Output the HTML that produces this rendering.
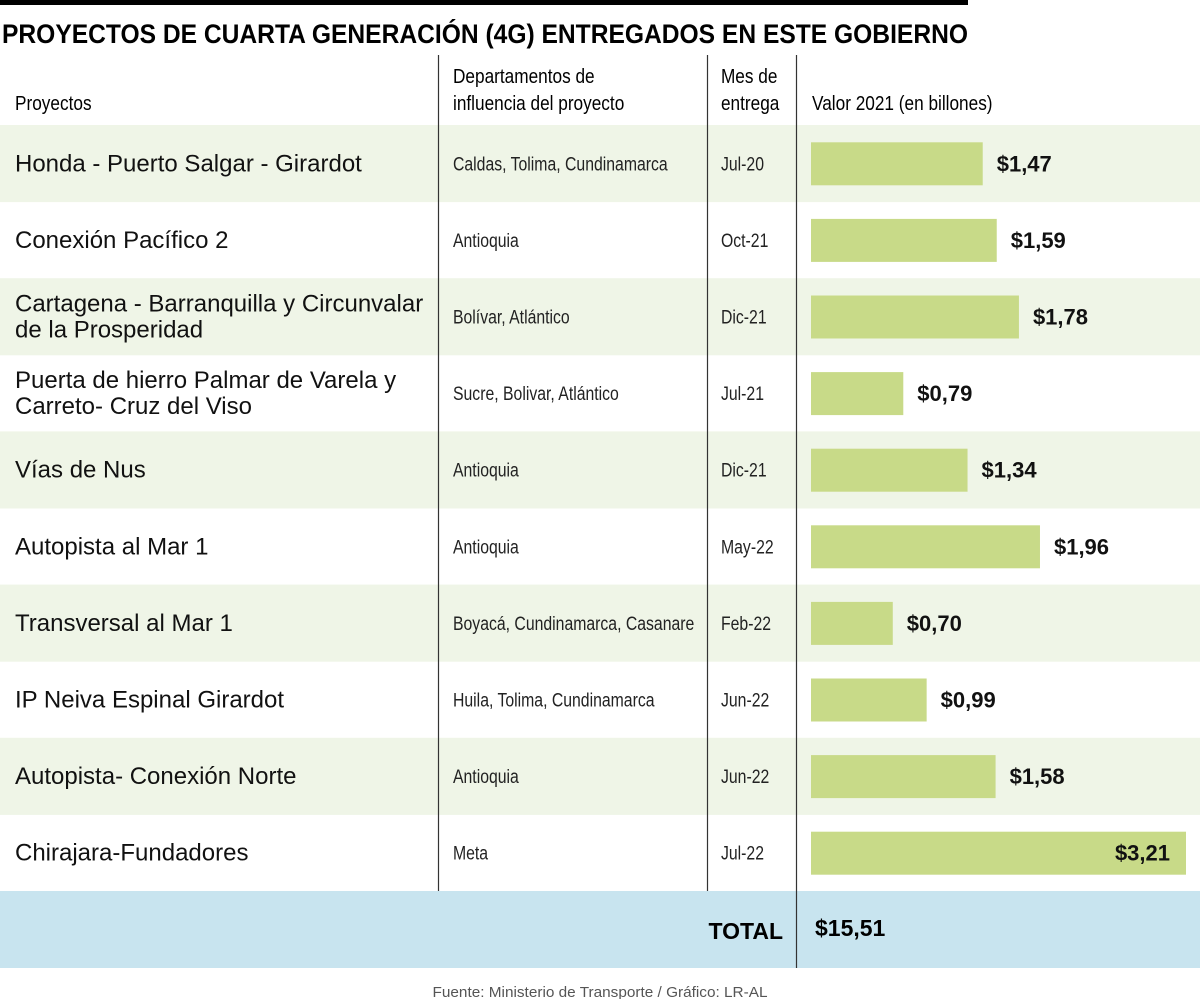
<!DOCTYPE html>
<html><head><meta charset="utf-8"><style>
html,body{margin:0;padding:0;background:#fff;}
svg{display:block;font-family:"Liberation Sans",sans-serif;}
</style></head><body>
<svg id="c" width="1200" height="999" viewBox="0 0 1200 999" xmlns="http://www.w3.org/2000/svg">
<rect x="0" y="0" width="968" height="5" fill="#000"/>
<text x="2" y="43" font-size="27" font-weight="bold" textLength="966" lengthAdjust="spacingAndGlyphs">PROYECTOS DE CUARTA GENERACIÓN (4G) ENTREGADOS EN ESTE GOBIERNO</text>
<g id="rows"></g>
<rect x="0" y="891" width="1200" height="77" fill="#c8e4ef"/>
<text x="783" y="939" font-size="23" font-weight="bold" text-anchor="end">TOTAL</text>
<text x="815" y="936" font-size="23" font-weight="bold">$15,51</text>
<g transform="scale(0.84,1)" font-size="20.5">
<text x="17.9" y="110">Proyectos</text>
<text x="539.3" y="83">Departamentos de</text>
<text x="539.3" y="110">influencia del proyecto</text>
<text x="858.3" y="83">Mes de</text>
<text x="858.3" y="110">entrega</text>
<text x="966.7" y="110">Valor 2021 (en billones)</text>
</g>
<line x1="438.5" y1="55" x2="438.5" y2="891" stroke="#333" stroke-width="1.2"/>
<line x1="707.5" y1="55" x2="707.5" y2="891" stroke="#333" stroke-width="1.2"/>
<line x1="796.5" y1="55" x2="796.5" y2="968" stroke="#333" stroke-width="1.2"/>
<text x="600" y="997" font-size="15" fill="#555" text-anchor="middle" textLength="335" lengthAdjust="spacingAndGlyphs">Fuente: Ministerio de Transporte / Gráfico: LR-AL</text>
</svg>
<script>
const projects=[["Honda - Puerto Salgar - Girardot"],["Conexión Pacífico 2"],["Cartagena - Barranquilla y Circunvalar","de la Prosperidad"],["Puerta de hierro Palmar de Varela y","Carreto- Cruz del Viso"],["Vías de Nus"],["Autopista al Mar 1"],["Transversal al Mar 1"],["IP Neiva Espinal Girardot"],["Autopista- Conexión Norte"],["Chirajara-Fundadores"]];
const departments=["Caldas, Tolima, Cundinamarca","Antioquia","Bolívar, Atlántico","Sucre, Bolivar, Atlántico","Antioquia","Antioquia","Boyacá, Cundinamarca, Casanare","Huila, Tolima, Cundinamarca","Antioquia","Meta"];
const months=["Jul-20","Oct-21","Dic-21","Jul-21","Dic-21","May-22","Feb-22","Jun-22","Jun-22","Jul-22"];
const values=[1.47,1.59,1.78,0.79,1.34,1.96,0.70,0.99,1.58,3.21];
const labels=["$1,47","$1,59","$1,78","$0,79","$1,34","$1,96","$0,70","$0,99","$1,58","$3,21"];
const NS="http://www.w3.org/2000/svg";
const g=document.getElementById('rows');
const x0=811, pxPerUnit=375/3.21, top0=125, rowH=76.6, SX=0.81;
const xs=v=>v*pxPerUnit;
const maxV=Math.max(...values);
function mk(tag,attrs,text){const e=document.createElementNS(NS,tag);for(const k in attrs)e.setAttribute(k,attrs[k]);if(text!==undefined)e.textContent=text;g.appendChild(e);return e;}
values.forEach((v,i)=>{
  const y=top0+i*rowH, cy=y+rowH/2;
  if(i%2===0){const r=mk('rect',{x:0,y:y,width:1200,height:rowH+0.5,fill:'#eff5e7'});
    
    }
  const p=projects[i];
  p.forEach((line,j)=>{
    const yy=p.length===1?cy+8:cy-5+j*26;
    const t=mk('text',{x:15,y:yy,'font-size':24,fill:'#111'},line);
    
    
  });
  const d=mk('text',{x:453/SX,y:cy+7,'font-size':19.5,fill:'#222',transform:`scale(${SX},1)`},departments[i]);
  
  
  const m=mk('text',{x:721/SX,y:cy+7,'font-size':19.5,fill:'#222',transform:`scale(${SX},1)`},months[i]);
  
  
  const w=xs(v);
  const b=mk('rect',{x:x0,y:cy-21,width:w,height:43,fill:'#c8da88'});
  
  
  const inside=v===maxV;
  const l=mk('text',{x:inside?x0+w-16:x0+w+14,y:cy+8,'font-size':22,'font-weight':'bold','text-anchor':inside?'end':'start',fill:'#111'},labels[i]);
  
  
});
</script>
</body></html>
